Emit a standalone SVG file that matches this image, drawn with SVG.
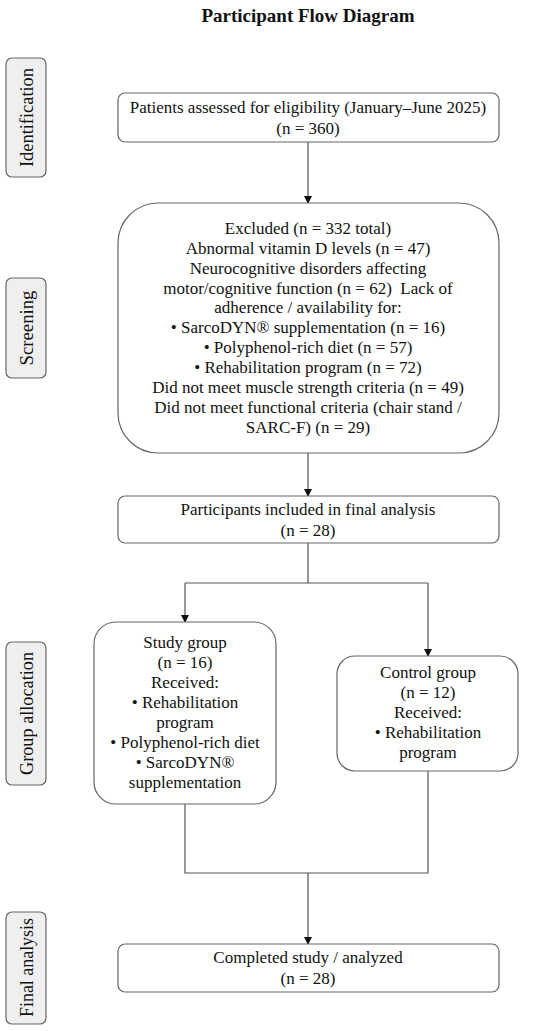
<svg xmlns="http://www.w3.org/2000/svg" width="550" height="1031" viewBox="0 0 550 1031">
<style>
text{font-family:"Liberation Serif","Times New Roman",serif;font-size:17px;fill:#111;text-anchor:middle}
.title{font-weight:bold;font-size:19px}
.sl{font-size:18px}
.box{fill:#fff;stroke:#666;stroke-width:1.2}
.side{fill:#efefef;stroke:#666;stroke-width:1.2}
.conn{fill:none;stroke:#555;stroke-width:1.2}
</style>
<defs>
<marker id="arr" markerWidth="8" markerHeight="8" refX="7" refY="4" orient="auto" markerUnits="userSpaceOnUse">
<path d="M0,0 L8,4 L0,8 z" fill="#111"/>
</marker>
</defs>
<text class="title" x="308" y="22">Participant Flow Diagram</text>

<g id="side-identification">
<rect class="side" x="6" y="58" width="40" height="119" rx="6"/>
<text class="sl" transform="translate(33,117.5) rotate(-90)" textLength="99" lengthAdjust="spacingAndGlyphs">Identification</text>
</g>
<g id="side-screening">
<rect class="side" x="6" y="278" width="40" height="100" rx="6"/>
<text class="sl" transform="translate(33,328) rotate(-90)" textLength="75" lengthAdjust="spacingAndGlyphs">Screening</text>
</g>
<g id="side-allocation">
<rect class="side" x="6" y="642" width="40" height="143" rx="6"/>
<text class="sl" transform="translate(33,713.5) rotate(-90)" textLength="123" lengthAdjust="spacingAndGlyphs">Group allocation</text>
</g>
<g id="side-final">
<rect class="side" x="6" y="912" width="40" height="112" rx="6"/>
<text class="sl" transform="translate(33,967.5) rotate(-90)" textLength="99" lengthAdjust="spacingAndGlyphs">Final analysis</text>
</g>

<g id="connectors">
<line class="conn" x1="308" y1="142" x2="308" y2="203" marker-end="url(#arr)"/>
<line class="conn" x1="308" y1="453" x2="308" y2="496" marker-end="url(#arr)"/>
<polyline class="conn" points="308,543 308,583"/>
<polyline class="conn" points="185,583 428,583"/>
<line class="conn" x1="185" y1="583" x2="185" y2="622" marker-end="url(#arr)"/>
<line class="conn" x1="428" y1="583" x2="428" y2="656" marker-end="url(#arr)"/>
<polyline class="conn" points="185,804 185,873 428,873 428,771"/>
<line class="conn" x1="308" y1="873" x2="308" y2="944" marker-end="url(#arr)"/>
</g>

<g id="assessed">
<rect class="box" x="118" y="93" width="381" height="49" rx="7"/>
<text x="308" y="113">Patients assessed for eligibility (January–June 2025)</text>
<text x="308" y="134">(n = 360)</text>
</g>

<g id="excluded">
<rect class="box" x="118" y="203" width="381" height="250" rx="40"/>
<text x="308" y="234">Excluded (n = 332 total)</text>
<text x="308" y="254">Abnormal vitamin D levels (n = 47)</text>
<text x="308" y="274">Neurocognitive disorders affecting</text>
<text x="308" y="294" xml:space="preserve">motor/cognitive function (n = 62)  Lack of</text>
<text x="308" y="313">adherence / availability for:</text>
<text x="308" y="333">• SarcoDYN® supplementation (n = 16)</text>
<text x="308" y="353">• Polyphenol-rich diet (n = 57)</text>
<text x="308" y="373">• Rehabilitation program (n = 72)</text>
<text x="308" y="393">Did not meet muscle strength criteria (n = 49)</text>
<text x="308" y="413">Did not meet functional criteria (chair stand /</text>
<text x="308" y="433">SARC-F) (n = 29)</text>
</g>

<g id="included">
<rect class="box" x="118" y="496" width="381" height="47" rx="7"/>
<text x="308" y="515">Participants included in final analysis</text>
<text x="308" y="536">(n = 28)</text>
</g>

<g id="study">
<rect class="box" x="94" y="622" width="182" height="182" rx="22"/>
<text x="185" y="648">Study group</text>
<text x="185" y="668">(n = 16)</text>
<text x="185" y="688">Received:</text>
<text x="185" y="708">• Rehabilitation</text>
<text x="185" y="728">program</text>
<text x="185" y="748">• Polyphenol-rich diet</text>
<text x="185" y="768">• SarcoDYN®</text>
<text x="185" y="788">supplementation</text>
</g>

<g id="control">
<rect class="box" x="337" y="656" width="181" height="115" rx="18"/>
<text x="428" y="678">Control group</text>
<text x="428" y="698">(n = 12)</text>
<text x="428" y="718">Received:</text>
<text x="428" y="738">• Rehabilitation</text>
<text x="428" y="758">program</text>
</g>

<g id="completed">
<rect class="box" x="118" y="944" width="381" height="48" rx="7"/>
<text x="308" y="963">Completed study / analyzed</text>
<text x="308" y="984">(n = 28)</text>
</g>
</svg>
